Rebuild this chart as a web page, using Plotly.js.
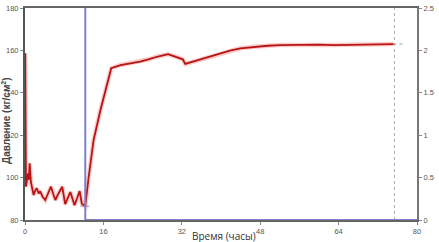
<!DOCTYPE html>
<html>
<head>
<meta charset="utf-8">
<script src="https://cdn.plot.ly/plotly-3.0.1.min.js"></script>
<style>html,body{margin:0;padding:0;background:#fff}#chart{width:439px;height:242px}</style>
</head>
<body>
<div id="chart"></div>
<script>
// Pressure (kg/cm2) vs time (hours)
const timeHours = [0, 0.05, 0.08, 0.12, 0.16, 0.2, 0.35, 0.6, 0.8, 0.95, 1.2, 1.5, 1.76, 2.1, 2.4, 2.8, 3.1, 3.6, 4.14, 4.7, 5.3, 5.8, 6.2, 6.6, 7.07, 7.6, 8.2, 8.7, 9.25, 9.7, 10.1, 10.6, 11.15, 11.6, 12.3,
  13.0, 14.0, 15.4, 16.7, 17.6, 19.5, 21.5, 23.5, 25.2, 26.9, 29.2, 30.5, 31.7, 32.2, 32.7, 34.2, 35.8, 38.0, 39.9, 42.0, 44.0, 46.7, 49.5, 52.1, 55.0, 57.5, 60.0, 63.0, 66.0, 68.4, 71.5, 73.5, 75.2];
const pressure = [100.4, 158.7, 136.6, 121.0, 108.0, 95.7, 98.0, 102.0, 99.0, 106.7, 98.0, 94.0, 91.8, 94.0, 95.0, 92.5, 93.5, 91.0, 89.4, 92.5, 95.7, 92.0, 89.4, 91.5, 93.8, 95.7, 87.5, 90.5, 93.2, 90.0, 87.0, 90.0, 93.6, 87.7, 86.5,
  100.4, 117.7, 131.9, 142.9, 151.6, 153.1, 153.9, 154.7, 155.8, 157.0, 158.2, 157.3, 156.3, 155.8, 153.6, 154.6, 155.6, 157.2, 158.7, 160.0, 161.0, 161.7, 162.2, 162.5, 162.6, 162.5, 162.7, 162.5, 162.7, 162.6, 162.8, 162.9, 163.0];
// Secondary series (right axis)
const flowTime = [12.3, 12.3, 80];
const flowValue = [2.5, 0, 0];
// Markers
const endTime = [75.4, 75.4];
const endRange = [80, 180];
const tailTime = [75.2, 77.5];
const tailValue = [163, 163];
const startTime = [11.3, 13.7];
const startValue = [86.5, 86.5];
const xTicks = [0, 16, 32, 48, 64, 80];
const yTicks = [80, 100, 120, 140, 160, 180];
const y2Ticks = [0, 0.5, 1, 1.5, 2, 2.5];

const tickFont = {family: 'Liberation Sans Narrow, Liberation Sans, Arial, sans-serif', size: 7.5, color: '#555'};
const traces = [
  {x: flowTime, y: flowValue, yaxis: 'y2', mode: 'lines', line: {color: '#7f7fcc', width: 2}, cliponaxis: false, hoverinfo: 'skip'},
  {x: endTime, y: endRange, mode: 'lines', line: {color: '#aaaaaa', width: 1, dash: 'dot'}},
  {x: tailTime, y: tailValue, mode: 'lines', line: {color: '#999999', width: 1, dash: 'dot'}},
  {x: startTime, y: startValue, mode: 'lines', line: {color: '#8c8cc0', width: 1, dash: 'dot'}},
  {x: timeHours, y: pressure, mode: 'lines', line: {color: 'rgba(240,110,110,0.35)', width: 4.5}},
  {x: timeHours, y: pressure, mode: 'lines', line: {color: '#b81414', width: 1.8}}
];
const layout = {
  width: 439, height: 242,
  margin: {l: 25, r: 22, t: 8, b: 22},
  showlegend: false,
  paper_bgcolor: '#fff', plot_bgcolor: '#fff',
  xaxis: {range: [0, 80], tickvals: xTicks, ticktext: xTicks.map(String), showgrid: false, zeroline: false,
    showline: true, linecolor: '#666', linewidth: 2, mirror: true, ticks: 'outside', ticklen: 3, tickcolor: '#888', tickfont: tickFont},
  yaxis: {range: [80, 180], tickvals: yTicks, ticktext: yTicks.map(String), showgrid: false, zeroline: false,
    showline: true, linecolor: '#555', linewidth: 2, ticks: 'outside', ticklen: 3, tickcolor: '#888', tickfont: tickFont},
  yaxis2: {range: [0, 2.5], tickvals: y2Ticks, ticktext: y2Ticks.map(String), overlaying: 'y', side: 'right', showgrid: false, zeroline: false,
    showline: true, linecolor: '#777', linewidth: 2, ticks: 'outside', ticklen: 3, tickcolor: '#888', tickfont: tickFont},
  annotations: [
    {text: 'Время (часы)', xref: 'paper', yref: 'paper', x: 0.508, y: -0.075, xanchor: 'center', yanchor: 'middle', showarrow: false,
      font: {family: 'Open Sans, Liberation Sans, sans-serif', size: 10, color: '#333'}},
    {text: '<b>Давление (кг/см<sup>2</sup>)</b>', xref: 'paper', yref: 'paper', x: -0.047, y: 0.47, xanchor: 'center', yanchor: 'middle', textangle: -90, showarrow: false,
      font: {family: 'Liberation Sans, Arial, sans-serif', size: 10, color: '#444'}}
  ]
};
Plotly.newPlot('chart', traces, layout, {staticPlot: true, displayModeBar: false});
</script>
</body>
</html>
